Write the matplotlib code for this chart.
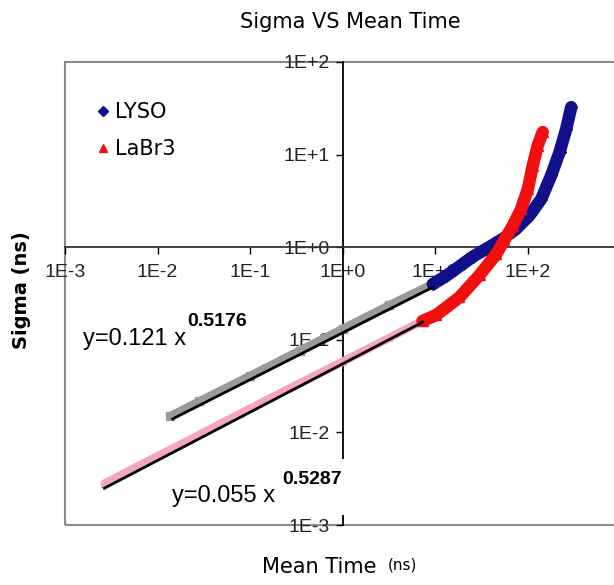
"""
Sigma vs mean time, LYSO and LaBr3, log-log with axes crossing at (1, 1).
Writes out.png.
"""

import matplotlib
matplotlib.use("Agg")
import matplotlib.pyplot as plt
from matplotlib.patches import Rectangle
from matplotlib.lines import Line2D
from matplotlib.ticker import FixedLocator, NullLocator, FuncFormatter

# LYSO, low part (grey markers, fitted)
lyso_fit_x = [0.0137, 0.0284, 0.0989, 0.343, 1.0, 3.22, 9.4]
lyso_fit_y = [0.0150, 0.0217, 0.0406, 0.0762, 0.131, 0.237, 0.40]
# LYSO, high part (navy)
lyso_x = [9.47, 13.2, 20, 25.6, 35.8, 54.1, 75.5, 105, 141, 180, 222, 262, 297]
lyso_y = [0.40, 0.49, 0.66, 0.79, 0.96, 1.23, 1.58, 2.2, 3.32, 5.95, 10.6, 18.9, 32.5]

# LaBr3, low part (pink markers, fitted)
labr_fit_x = [0.00267, 0.00639, 0.0222, 0.077, 0.267, 1.0, 3.22, 7.33]
labr_fit_y = [0.0028, 0.0044, 0.0083, 0.0158, 0.0298, 0.058, 0.105, 0.16]
# LaBr3, high part (red)
labr_x = [7.33, 10.3, 18.4, 30.3, 45.9, 56.4, 69.4, 85.4, 101, 114, 129, 146]
labr_y = [0.16, 0.185, 0.288, 0.5, 0.84, 1.2, 1.71, 2.59, 4.26, 7.6, 12.5, 17.5]

# trend line end points and their printed equations
lyso_trend_x = [0.0146, 9.47]
lyso_trend_y = [0.014, 0.37]
labr_trend_x = [0.00267, 7.33]
labr_trend_y = [0.0025, 0.155]
lyso_eq = ("y=0.121 x", "0.5176")
labr_eq = ("y=0.055 x", "0.5287")

tick_vals = [1e-3, 1e-2, 1e-1, 1e0, 1e1, 1e2]
tick_labels = ["1E-3", "1E-2", "1E-1", "1E+0", "1E+1", "1E+2"]

NAVY = "#10108a"
RED = "#f01010"
GREY = "#9a9a9a"
PINK = "#f3a6bd"
FONT = ["Liberation Sans", "DejaVu Sans"]

W, H = 614, 585


def fx(px):
    return px / W


def fy(py):
    return 1 - py / H


fig = plt.figure(figsize=(6.14, 5.85), dpi=100)
ax = fig.add_axes([fx(65), fy(525), 555 / W, 463 / H])
ax.set_xscale("log")
ax.set_yscale("log")
ax.set_xlim(1e-3, 1e3)
ax.set_ylim(1e-3, 1e2)

# data bands (drawn over the axis lines and tick labels, as in the original)
ax.plot(lyso_fit_x, lyso_fit_y, color=GREY, lw=6, marker="s", ms=6,
        solid_capstyle="round", zorder=3)
ax.plot(lyso_x, lyso_y, color=NAVY, lw=9, marker="D", ms=6,
        solid_capstyle="round", solid_joinstyle="round", zorder=4)
ax.plot(labr_fit_x, labr_fit_y, color=PINK, lw=6, marker="^", ms=5,
        solid_capstyle="round", zorder=3)
ax.plot(labr_x, labr_y, color=RED, lw=9, marker="^", ms=7,
        solid_capstyle="round", solid_joinstyle="round", zorder=5)

# trend lines
ax.plot(lyso_trend_x, lyso_trend_y, color="black", lw=2, zorder=6)
ax.plot(labr_trend_x, labr_trend_y, color="black", lw=2, zorder=6)

# axes crossing at (1, 1)
for side in ["top", "right"]:
    ax.spines[side].set_visible(False)
ax.spines["left"].set_position(("data", 1))
ax.spines["bottom"].set_position(("data", 1))
ax.spines["left"].set_linewidth(1.3)
ax.spines["bottom"].set_linewidth(1.3)
ax.spines["bottom"].set_color("#333333")

ax.xaxis.set_major_locator(FixedLocator(tick_vals + [1e3]))
ax.yaxis.set_major_locator(FixedLocator(tick_vals))
ax.xaxis.set_minor_locator(NullLocator())
ax.yaxis.set_minor_locator(NullLocator())
fmt = FuncFormatter(lambda v, pos: tick_labels[tick_vals.index(v)] if v in tick_vals else "")
ax.xaxis.set_major_formatter(fmt)
ax.yaxis.set_major_formatter(fmt)
ax.tick_params(axis="both", direction="out", length=5, width=1, labelsize=14)
ax.tick_params(axis="y", pad=4)
ax.tick_params(axis="x", pad=7)
for lab in ax.get_xticklabels() + ax.get_yticklabels():
    lab.set_family(FONT)
    lab.set_color("#222222")

# grey plot-area frame
ax.add_patch(Rectangle((0, 0), 1, 1, transform=ax.transAxes, fill=False,
                       edgecolor="#8a8a8a", lw=1.5, clip_on=False, zorder=0))

# equations; the LaBr3 label sits on a white box that hides part of the y axis
fig.add_artist(Rectangle((fx(168), fy(515)), 180 / W, 56 / H,
                         transform=fig.transFigure, facecolor="white",
                         edgecolor="none", zorder=1))
fig.text(fx(83), fy(339), lyso_eq[0], fontsize=17, va="center", ha="left",
         family=FONT, zorder=2)
fig.text(fx(187), fy(322), lyso_eq[1], fontsize=14, va="center", ha="left",
         family=FONT, fontweight="bold", zorder=2)
fig.text(fx(172), fy(496), labr_eq[0], fontsize=17, va="center", ha="left",
         family=FONT, zorder=2)
fig.text(fx(282), fy(479), labr_eq[1], fontsize=14, va="center", ha="left",
         family=FONT, fontweight="bold", zorder=2)

# legend
handles = [
    Line2D([], [], ls="none", marker="D", ms=5, color=NAVY, label="LYSO"),
    Line2D([], [], ls="none", marker="^", ms=6, color=RED, label="LaBr3"),
]
fig.legend(handles=handles, loc="upper left", bbox_to_anchor=(fx(88), fy(94)),
           frameon=False, fontsize=15, handlelength=0.6, handletextpad=0.3,
           labelspacing=0.8, borderaxespad=0)

# titles
fig.text(fx(350), fy(22), "Sigma VS Mean Time", ha="center", va="center",
         fontsize=15)
fig.text(fx(22), fy(290), "Sigma (ns)", ha="center", va="center",
         rotation=90, fontsize=14, fontweight="bold")
fig.text(fx(376), fy(567), "Mean Time", ha="right", va="center", fontsize=15)
fig.text(fx(388), fy(565), "(ns)", ha="left", va="center", fontsize=11)

fig.savefig("out.png", dpi=100)
